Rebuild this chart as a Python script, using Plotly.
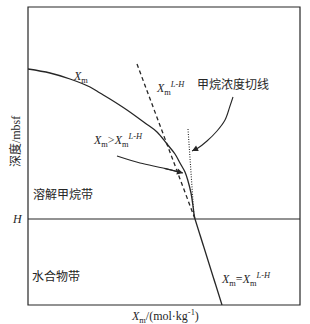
import plotly.graph_objects as go

# Solid methane concentration curve Xm (above H)
xm_x = [0, 22, 42, 62, 72, 82, 99, 117, 129, 139, 147, 152, 157, 160, 163, 165, 166, 167]
xm_d = [62, 66, 72, 80, 86, 92, 103, 116, 125, 137, 147, 156, 165, 174, 186, 199, 207, 212]
# Below H: Xm = Xm^{L-H}
low_x = [167, 194]
low_d = [212, 298]
# Dashed Xm^{L-H}
dash_x = [109, 167]
dash_d = [57, 212]
# Dotted tangent
tan_x = [160, 166]
tan_d = [122, 209]
# Curved arrows
arr1_x = [205, 202, 197, 189, 179, 170, 164]
arr1_d = [90, 99, 113, 124, 134, 141, 144]
arr2_x = [89, 112, 135, 155]
arr2_d = [149, 156, 161, 166]
H_depth = 212

C = "#262626"
FONT = "Liberation Serif, Noto Sans CJK SC"
CJK = "Noto Sans CJK SC"

fig = go.Figure()
fig.add_trace(go.Scatter(x=xm_x, y=xm_d, mode="lines", line=dict(color=C, width=1.3, shape="spline")))
fig.add_trace(go.Scatter(x=low_x, y=low_d, mode="lines", line=dict(color=C, width=1.3)))
fig.add_trace(go.Scatter(x=dash_x, y=dash_d, mode="lines", line=dict(color=C, width=1.3, dash="4px,3px")))
fig.add_trace(go.Scatter(x=tan_x, y=tan_d, mode="lines", line=dict(color=C, width=1.1, dash="1px,1.5px")))
fig.add_trace(go.Scatter(x=[0, 272], y=[H_depth, H_depth], mode="lines", line=dict(color=C, width=1.2)))
for ax_, ad_ in [(arr1_x, arr1_d), (arr2_x, arr2_d)]:
    fig.add_trace(go.Scatter(x=ax_, y=ad_, mode="lines", line=dict(color=C, width=1.1, shape="spline")))
    fig.add_annotation(x=ax_[-1], y=ad_[-1], ax=ax_[-2], ay=ad_[-2], axref="x", ayref="y",
                       xref="x", yref="y", text="", showarrow=True, arrowhead=2,
                       arrowsize=1.1, arrowwidth=1.1, arrowcolor=C)

def txt(x, y, s, size=12, family=FONT, angle=0, ref="data"):
    xr, yr = ("x", "y") if ref == "data" else ("paper", "paper")
    fig.add_annotation(x=x, y=y, xref=xr, yref=yr, text=s, showarrow=False,
                       xanchor="center", yanchor="middle",
                       font=dict(family=family, size=size, color=C), textangle=angle)

xm = "<i>X</i><sub>m</sub>"
xmlh = "<i>X</i><sub>m</sub><sup><i>L-H</i></sup>"
txt(52, 70, xm)
txt(142, 81, xmlh)
txt(205, 76, "甲烷浓度切线", 12, CJK)
txt(90, 133, xm + "&gt;" + xmlh)
txt(35, 186, "溶解甲烷带", 12, CJK)
txt(28, 268, "水合物带", 12, CJK)
txt(218, 272, xm + "=" + xmlh)
txt(-0.037, 0.289, "<i>H</i>", 12, ref="paper")
txt(0.504, -0.037, xm + "/(mol·kg<sup>-1</sup>)", 12, ref="paper")
txt(-0.048, 0.55, "深度/mbsf", 12, FONT, -90, ref="paper")

fig.add_shape(type="rect", xref="paper", yref="paper", x0=0, y0=0, x1=1, y1=1,
              line=dict(color=C, width=1.2), fillcolor="rgba(0,0,0,0)", layer="above")

axis = dict(showline=False, showgrid=False, zeroline=False, showticklabels=False, ticks="")
fig.update_layout(
    width=310, height=324, margin=dict(l=28, r=10, t=7, b=19),
    paper_bgcolor="white", plot_bgcolor="white", showlegend=False,
    xaxis=dict(range=[0, 272], **axis),
    yaxis=dict(range=[298, 0], **axis),
)
fig.write_html("out.html")
